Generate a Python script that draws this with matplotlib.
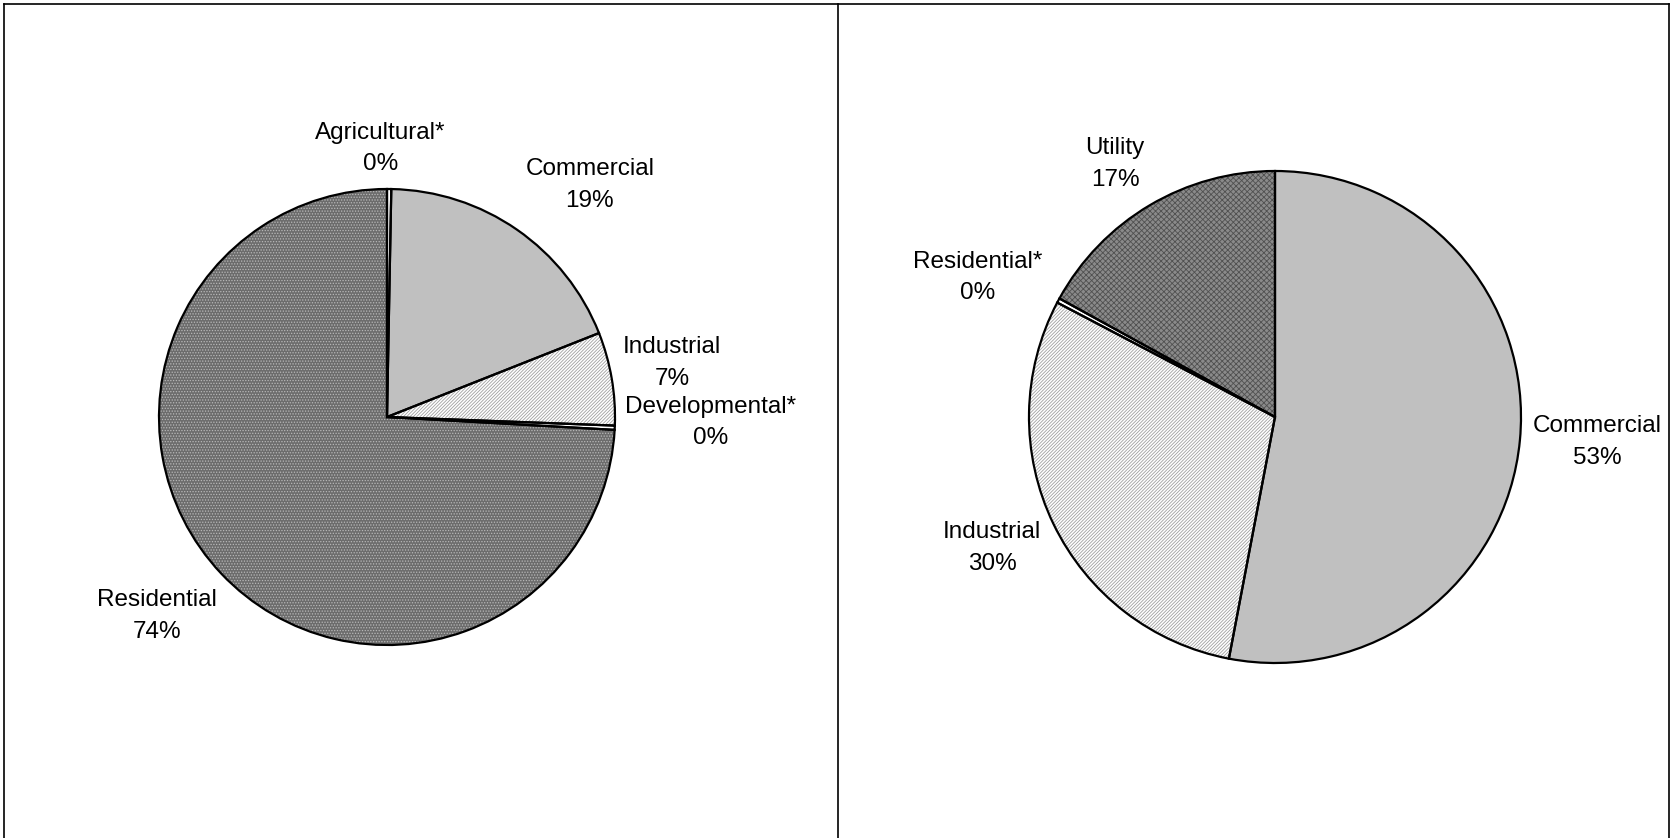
import matplotlib
matplotlib.use("Agg")
import matplotlib.pyplot as plt

plt.rcParams['font.family'] = ['Liberation Sans', 'DejaVu Sans']
plt.rcParams['hatch.linewidth'] = 0.6

# left pie
left_labels = ["Agricultural*", "Commercial", "Industrial", "Developmental*", "Residential"]
left_values = [0.3, 18.7, 6.6, 0.3, 74.1]
left_pct = ["0%", "19%", "7%", "0%", "74%"]

# right pie
right_labels = ["Commercial", "Industrial", "Residential*", "Utility"]
right_values = [53.0, 29.7, 0.3, 17.0]
right_pct = ["53%", "30%", "0%", "17%"]

# fill styles per category: (facecolor, hatch, hatch colour)
styles = {
    "Agricultural*": ("white", None, "white"),
    "Developmental*": ("white", None, "white"),
    "Residential*": ("white", None, "white"),
    "Commercial": ("#c0c0c0", None, "#c0c0c0"),
    "Industrial": ("white", "//////////", "#a0a0a0"),
    "Residential": ("#6c6c6c", "......", "#b8b8b8"),
    "Utility": ("#8a8a8a", "xxxxxx", "#505050"),
}

W, H = 1673, 838
fig = plt.figure(figsize=(W / 100, H / 100), dpi=100)
ax = fig.add_axes([0, 0, 1, 1])


def draw_pie(values, labels, pcts, center, radius, label_pos):
    wedges, _ = ax.pie(values, startangle=90, counterclock=False,
                       center=center, radius=radius, frame=True)
    for w, lab in zip(wedges, labels):
        fc, hatch, hc = styles[lab]
        w.set_facecolor(fc)
        w.set_edgecolor(hc)
        w.set_linewidth(0)
        if hatch:
            w.set_hatch(hatch)
    # black outlines drawn on top so hatch colour stays independent
    ax.pie(values, startangle=90, counterclock=False,
           center=center, radius=radius, frame=True,
           wedgeprops=dict(facecolor="none", edgecolor="black", linewidth=1.6))
    for lab, pct, (dx, dy) in zip(labels, pcts, label_pos):
        ax.text(center[0] + dx * radius, center[1] + dy * radius - 3, f"{lab}\n{pct}",
                ha="center", va="center", fontsize=17.5, linespacing=1.55)


draw_pie(left_values, left_labels, left_pct, (387, H - 417), 228,
         [(-0.03, 1.19), (0.89, 1.03), (1.25, 0.25), (1.42, -0.01), (-1.01, -0.86)])
draw_pie(right_values, right_labels, right_pct, (1275, H - 417), 246,
         [(1.31, -0.09), (-1.15, -0.52), (-1.21, 0.58), (-0.65, 1.04)])

# panel borders
ax.plot([4, 1669], [H - 4, H - 4], color="black", lw=1.2)
for x in [4, 838, 1669]:
    ax.plot([x, x], [0, H - 4], color="black", lw=1.2)

ax.set_xlim(0, W)
ax.set_ylim(0, H)
ax.set_aspect("equal")
ax.axis("off")

fig.savefig("out.png", dpi=100)
